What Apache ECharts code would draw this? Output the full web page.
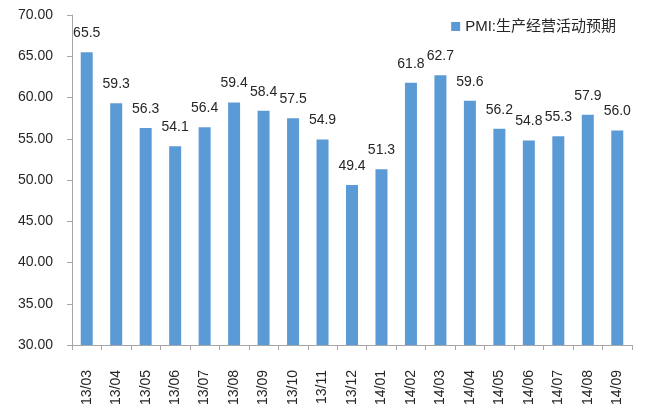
<!DOCTYPE html>
<html>
<head>
<meta charset="utf-8">
<script src="https://cdn.jsdelivr.net/npm/echarts@6/dist/echarts.min.js"></script>
<style>html,body{margin:0;padding:0;background:#fff}#c{width:645px;height:411px}</style>
</head>
<body>
<div id="c"></div>
<script>
var categories = ["13/03","13/04","13/05","13/06","13/07","13/08","13/09","13/10","13/11","13/12","14/01","14/02","14/03","14/04","14/05","14/06","14/07","14/08","14/09"];
var pmiValues = [65.5,59.3,56.3,54.1,56.4,59.4,58.4,57.5,54.9,49.4,51.3,61.8,62.7,59.6,56.2,54.8,55.3,57.9,56.0];
var seriesName = "PMI:生产经营活动预期";
var yMin = 30, yMax = 70, yStep = 5;

var font = "'Liberation Sans', Arial, 'Noto Sans CJK SC', sans-serif";
var chart = echarts.init(document.getElementById('c'), null, {renderer: 'canvas'});
chart.setOption({
  animation: false,
  textStyle: {fontFamily: font},
  grid: {left: 72, right: 13, top: 15, bottom: 66},
  legend: {
    right: 24, top: 14,
    itemWidth: 9, itemHeight: 9, itemGap: 4,
    icon: 'rect',
    textStyle: {fontSize: 15, color: '#262626', fontFamily: font},
    data: [seriesName]
  },
  xAxis: {
    type: 'category',
    data: categories,
    axisLine: {lineStyle: {color: '#a6a6a6', width: 1}},
    axisTick: {show: true, length: 5, alignWithLabel: false, lineStyle: {color: '#a6a6a6'}},
    axisLabel: {rotate: 90, fontSize: 14, color: '#262626', margin: 25, interval: 0, fontFamily: font}
  },
  yAxis: {
    type: 'value',
    min: yMin, max: yMax, interval: yStep,
    splitLine: {show: false},
    axisLine: {show: true, lineStyle: {color: '#a6a6a6', width: 1}},
    axisTick: {show: true, length: 5, lineStyle: {color: '#a6a6a6'}},
    axisLabel: {fontSize: 14, color: '#262626', margin: 19, fontFamily: font,
      formatter: function (v) { return v.toFixed(2); }}
  },
  series: [{
    name: seriesName,
    type: 'bar',
    data: pmiValues,
    barWidth: 12,
    itemStyle: {color: '#5B9BD5'},
    label: {
      show: true, position: 'top', distance: 12,
      fontSize: 14, color: '#262626', fontFamily: font,
      formatter: function (p) { return p.value.toFixed(1); }
    }
  }]
});
</script>
</body>
</html>
